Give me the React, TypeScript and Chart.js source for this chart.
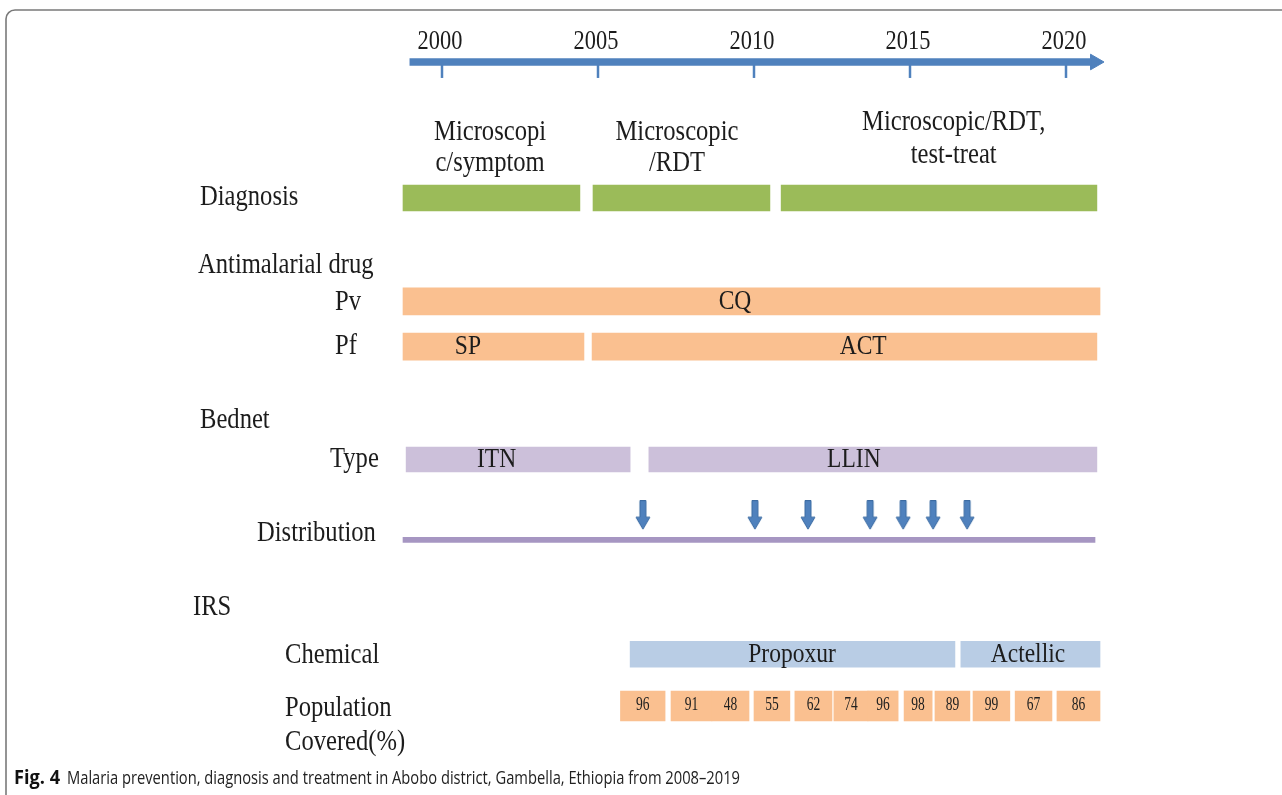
import React, { useEffect, useRef } from "react";
import { Chart, registerables } from "chart.js";

Chart.register(...registerables);

// ---------------- data ----------------
const yearTicks = [2000, 2005, 2010, 2015, 2020];
const timelineSpan: [number, number] = [1998.97, 2020.8];
const timelineHeadYear = 2020.93;

const diagnosisTexts = [
  ["Microscopi", "c/symptom"],
  ["Microscopic", "/RDT"],
  ["Microscopic/RDT,", "test-treat"],
];
const diagnosisSpans: [number, number][] = [
  [1998.75, 2004.42],
  [2004.84, 2010.51],
  [2010.87, 2020.99],
];
const diagnosisTextYears = [2001.54, 2007.53, 2016.4];

const pvTexts = ["CQ"];
const pvSpans: [number, number][] = [[1998.75, 2021.09]];
const pvTextYears = [2009.39];

const pfTexts = ["SP", "ACT"];
const pfSpans: [number, number][] = [
  [1998.75, 2004.55],
  [2004.81, 2020.99],
];
const pfTextYears = [2000.83, 2013.5];

const bednetTexts = ["ITN", "LLIN"];
const bednetSpans: [number, number][] = [
  [1998.85, 2006.03],
  [2006.63, 2020.99],
];
const bednetTextYears = [2001.75, 2013.2];

const distributionSpan: [number, number] = [1998.75, 2020.93];
const distributionYears = [2006.44, 2010.03, 2011.73, 2013.72, 2014.78, 2015.74, 2016.83];

const chemicalTexts = ["Propoxur", "Actellic"];
const chemicalSpans: [number, number][] = [
  [2006.03, 2016.44],
  [2016.63, 2021.09],
];
const chemicalTextYears = [2011.22, 2018.78];

const coverageValues = [96, 91, 48, 55, 62, 74, 96, 98, 89, 99, 67, 86];
const coverageSpans: [number, number][] = [
  [2005.72, 2007.15],
  [2007.34, 2008.65],
  [2008.65, 2009.84],
  [2010.0, 2011.15],
  [2011.31, 2012.5],
  [2012.56, 2013.65],
  [2013.65, 2014.62],
  [2014.81, 2015.71],
  [2015.8, 2016.92],
  [2017.02, 2018.2],
  [2018.37, 2019.55],
  [2019.71, 2021.09],
];

const rowLabels = [
  "Diagnosis",
  "Antimalarial drug",
  "Pv",
  "Pf",
  "Bednet",
  "Type",
  "Distribution",
  "IRS",
  "Chemical",
  "Population",
  "Covered(%)",
];

const captionBold = "Fig. 4";
const captionText =
  "Malaria prevention, diagnosis and treatment in Abobo district, Gambella, Ethiopia from 2008\u20132019";

// ---------------- layout / style ----------------
const W = 1282;
const H = 795;
const X0_PX = 442; // pixel of year 2000
const PX_PER_YEAR = 31.2;
const X_MIN = 2000 - X0_PX / PX_PER_YEAR;
const X_MAX = 2000 + (W - X0_PX) / PX_PER_YEAR;

// vertical lanes on a 0..100 scale (top to bottom)
const LANE = {
  yearText: 5.3,
  timeline: 7.8,
  timelineTick: 8.8,
  diagText1: 16.6,
  diagText2: 20.5,
  diagText3a: 15.35,
  diagText3b: 19.5,
  diagnosis: 24.9,
  pv: 37.9,
  pf: 43.6,
  type: 57.8,
  arrows: 64.8,
  distribution: 67.9,
  chemical: 82.3,
  coverage: 88.8,
};

// left row labels: [x pixel, lane]
const rowLabelPos: [number, number][] = [
  [200, 24.8],
  [198, 33.3],
  [335, 38.0],
  [335, 43.6],
  [200, 52.8],
  [330, 57.7],
  [257, 67.0],
  [193, 76.4],
  [285, 82.4],
  [285, 89.1],
  [285, 93.3],
];

const SERIF = "'Liberation Serif', 'DejaVu Serif', serif";
const SANS = "'Open Sans', 'Noto Sans', 'Liberation Sans', sans-serif";
const TEXT_COLOR = "#1c1c1c";
const GREEN = "#9bbb59";
const PEACH = "#fac090";
const LILAC = "#ccc0da";
const LIGHT_BLUE = "#b9cde5";
const BLUE = "#4f81bd";
const DIST_LINE = "#a696c2";

function makeArrowImage(): HTMLCanvasElement {
  const c = document.createElement("canvas");
  c.width = 16;
  c.height = 30;
  const g = c.getContext("2d")!;
  g.fillStyle = BLUE;
  g.strokeStyle = "#3d6ca3";
  g.lineWidth = 1;
  g.beginPath();
  g.moveTo(5, 0.5);
  g.lineTo(11, 0.5);
  g.lineTo(11, 17);
  g.lineTo(15, 17);
  g.lineTo(8, 29);
  g.lineTo(1, 17);
  g.lineTo(5, 17);
  g.closePath();
  g.fill();
  g.stroke();
  return c;
}

function drawText(
  ctx: CanvasRenderingContext2D,
  text: string,
  x: number,
  y: number,
  size: number,
  align: CanvasTextAlign = "left",
  sx = 0.82,
  family = SERIF,
  weight = "normal",
  color = TEXT_COLOR
) {
  ctx.save();
  ctx.translate(x, y);
  ctx.scale(sx, 1);
  ctx.font = `${weight} ${size}px ${family}`;
  ctx.textAlign = align;
  ctx.textBaseline = "middle";
  ctx.fillStyle = color;
  ctx.fillText(text, 0, 0);
  ctx.restore();
}

const framePlugin = {
  id: "frame",
  beforeDraw(chart: any) {
    const ctx = chart.ctx as CanvasRenderingContext2D;
    ctx.save();
    ctx.fillStyle = "#ffffff";
    ctx.fillRect(0, 0, W, H);
    ctx.strokeStyle = "#7a7a7a";
    ctx.lineWidth = 1.6;
    ctx.beginPath();
    ctx.moveTo(6, H + 2);
    ctx.lineTo(6, 19);
    ctx.arcTo(6, 10, 15, 10, 9);
    ctx.lineTo(W + 2, 10);
    ctx.stroke();
    ctx.restore();
  },
};

const textPlugin = {
  id: "timelineText",
  afterDatasetsDraw(chart: any) {
    const ctx = chart.ctx as CanvasRenderingContext2D;
    const xs = chart.scales.x;
    const ys = chart.scales.y;
    const px = (v: number) => xs.getPixelForValue(v);
    const py = (v: number) => ys.getPixelForValue(v);
    const FS = 30;

    // year labels
    yearTicks.forEach((yr) => drawText(ctx, String(yr), px(yr) - 2, py(LANE.yearText), 28, "center", 0.8));

    // diagnosis texts
    diagnosisTexts.forEach((lines, i) => {
      const l1 = i === 2 ? LANE.diagText3a : LANE.diagText1;
      const l2 = i === 2 ? LANE.diagText3b : LANE.diagText2;
      drawText(ctx, lines[0], px(diagnosisTextYears[i]), py(l1), FS, "center");
      drawText(ctx, lines[1], px(diagnosisTextYears[i]), py(l2), FS, "center");
    });

    // bar texts
    const barTexts: [string[], number[], number][] = [
      [pvTexts, pvTextYears, LANE.pv],
      [pfTexts, pfTextYears, LANE.pf],
      [bednetTexts, bednetTextYears, LANE.type],
      [chemicalTexts, chemicalTextYears, LANE.chemical],
    ];
    barTexts.forEach(([texts, years, lane]) => {
      texts.forEach((t, i) => drawText(ctx, t, px(years[i]), py(lane), 28, "center", 0.84));
    });

    // coverage numbers
    coverageValues.forEach((v, i) => {
      const [a, b] = coverageSpans[i];
      drawText(ctx, String(v), (px(a) + px(b)) / 2, py(LANE.coverage) - 1, 18, "center", 0.75, SERIF, "normal", "#202020");
    });

    // row labels
    rowLabels.forEach((t, i) => {
      const [x, lane] = rowLabelPos[i];
      drawText(ctx, t, x, py(lane), FS, "left");
    });

    // caption
    ctx.save();
    ctx.font = `bold 19px ${SANS}`;
    const bw = ctx.measureText(captionBold).width;
    ctx.restore();
    drawText(ctx, captionBold, 14, 779, 19, "left", 46 / bw, SANS, "bold", "#111");
    ctx.save();
    ctx.font = `normal 18px ${SANS}`;
    const tw = ctx.measureText(captionText).width;
    ctx.restore();
    drawText(ctx, captionText, 67, 779, 18, "left", 673 / tw, SANS, "normal", "#222");
  },
};

export default function App() {
  const ref = useRef<HTMLCanvasElement | null>(null);

  useEffect(() => {
    if (!ref.current) return;
    const spanData = (spans: [number, number][], lane: number) => spans.map((s) => ({ x: s, y: lane }));
    const bar = (spans: [number, number][], lane: number, color: string, thickness: number) => ({
      type: "bar" as const,
      data: spanData(spans, lane),
      backgroundColor: color,
      borderWidth: 0,
      barThickness: thickness,
      grouped: false,
    });

    const chart = new Chart(ref.current, {
      type: "bar",
      data: {
        datasets: [
          bar([timelineSpan], LANE.timeline, BLUE, 7) as any,
          bar(diagnosisSpans, LANE.diagnosis, GREEN, 26) as any,
          bar(pvSpans, LANE.pv, PEACH, 27) as any,
          bar(pfSpans, LANE.pf, PEACH, 27) as any,
          bar(bednetSpans, LANE.type, LILAC, 25) as any,
          bar([distributionSpan], LANE.distribution, DIST_LINE, 5) as any,
          bar(chemicalSpans, LANE.chemical, LIGHT_BLUE, 26) as any,
          bar(coverageSpans, LANE.coverage, PEACH, 30) as any,
          {
            type: "scatter" as const,
            data: [{ x: timelineHeadYear, y: LANE.timeline }],
            pointStyle: "triangle",
            rotation: 90,
            radius: 9,
            backgroundColor: BLUE,
            borderColor: BLUE,
            borderWidth: 1,
          } as any,
          {
            type: "scatter" as const,
            data: yearTicks.map((yr) => ({ x: yr, y: LANE.timelineTick })),
            pointStyle: "line",
            rotation: 90,
            radius: 8,
            borderColor: BLUE,
            borderWidth: 2.5,
          } as any,
          {
            type: "scatter" as const,
            data: distributionYears.map((yr) => ({ x: yr, y: LANE.arrows })),
            pointStyle: makeArrowImage(),
          } as any,
        ],
      },
      options: {
        indexAxis: "y",
        responsive: false,
        animation: false,
        events: [],
        layout: { padding: 0, autoPadding: false },
        scales: {
          x: { type: "linear", min: X_MIN, max: X_MAX, display: false, offset: false },
          y: { type: "linear", min: 0, max: 100, reverse: true, display: false, offset: false },
        },
        plugins: {
          legend: { display: false },
          tooltip: { enabled: false },
        },
      },
      plugins: [framePlugin, textPlugin],
    });
    return () => chart.destroy();
  }, []);

  return (
    <div style={{ position: "absolute", left: 0, top: 0, width: W, height: H }}>
      <canvas ref={ref} width={W} height={H} style={{ width: W, height: H, display: "block" }} />
    </div>
  );
}
